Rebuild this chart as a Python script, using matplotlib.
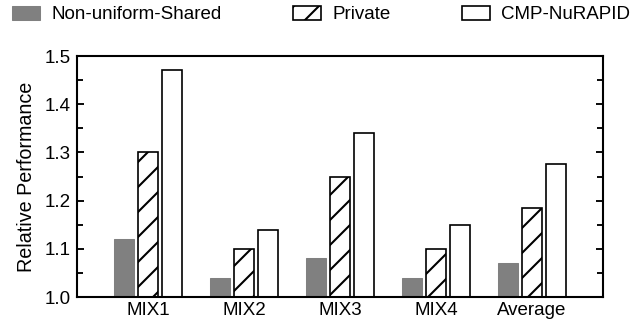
import numpy as np
import matplotlib.pyplot as plt

plt.rcParams['font.family'] = ['Liberation Sans', 'DejaVu Sans']
plt.rcParams['hatch.linewidth'] = 1.0

# Relative performance per workload mix
groups = ['MIX1', 'MIX2', 'MIX3', 'MIX4', 'Average']
shared = [1.12, 1.04, 1.08, 1.04, 1.07]
private = [1.30, 1.10, 1.25, 1.10, 1.185]
nurapid = [1.47, 1.14, 1.34, 1.15, 1.275]

x = np.arange(len(groups))
w = 0.21
off = 0.25
fs = 9

fig = plt.figure(figsize=(635 / 150, 327 / 150), dpi=150)
ax = fig.add_axes([0.1213, 0.0917, 0.8283, 0.737])

ax.bar(x - off, shared, w, color='#808080', edgecolor='#808080',
       linewidth=0.5, label='Non-uniform-Shared')
ax.bar(x, private, w, color='white', edgecolor='black', hatch='//',
       linewidth=0.8, label='Private')
ax.bar(x + off, nurapid, w, color='white', edgecolor='black',
       linewidth=0.8, label='CMP-NuRAPID')

ax.set_ylim(1.0, 1.5)
ax.set_xlim(-0.74, 4.74)
ax.set_yticks(np.arange(1.0, 1.51, 0.1))
ax.set_yticklabels(['1.0', '1.1', '1.2', '1.3', '1.4', '1.5'])
ax.set_yticks(np.arange(1.05, 1.5, 0.1), minor=True)
ax.set_xticks(x)
ax.set_xticklabels(groups)
ax.tick_params(axis='x', length=0, pad=2.5, labelsize=fs)
ax.tick_params(axis='y', which='both', direction='in', right=True,
               labelsize=fs, width=0.9, pad=3)
ax.tick_params(axis='y', which='major', length=3.5)
ax.tick_params(axis='y', which='minor', length=3)
for s in ax.spines.values():
    s.set_linewidth(1.0)
ax.set_ylabel('Relative Performance', fontsize=9.5, labelpad=4)

fig.legend(loc='upper left', bbox_to_anchor=(0.01, 1.0), ncol=3,
           frameon=False, fontsize=fs, handlelength=1.5, handleheight=0.8,
           handletextpad=0.6, columnspacing=3.8, borderaxespad=0.1,
           borderpad=0.2)

fig.savefig('out.png', dpi=150)
